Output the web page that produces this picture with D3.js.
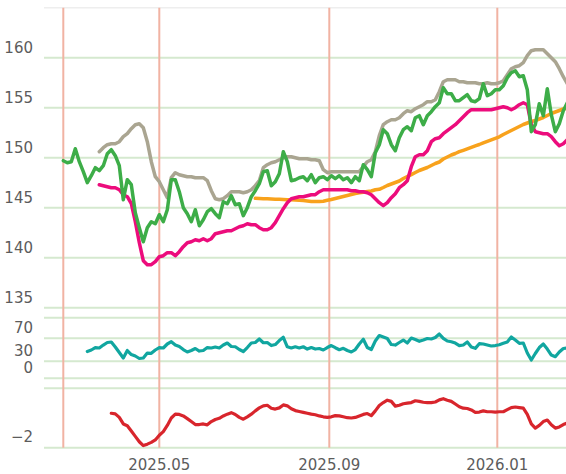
<!DOCTYPE html>
<html>
<head>
<meta charset="utf-8">
<script src="https://cdn.jsdelivr.net/npm/d3@7"></script>
<style>
body { margin: 0; background: #fff; }
svg { display: block; font-family: "DejaVu Sans", sans-serif; }
</style>
</head>
<body>
<svg id="drawing_region"></svg>
<script>
// x is a sample index (one sample every 2 trading days)
const tickIndex = [0, 24, 66.5, 108.5];
const tickLabels = ["", "2025.05", "2025.09", "2026.01"];

const priceTicks = [135, 140, 145, 150, 155, 160];
const rsiTicks = [0, 30, 70];
const oscTicks = [-2];

const price = [
  149.7,149.5,149.6,150.9,149.6,148.6,147.5,148.2,149.0,148.7,
  149.2,150.4,150.8,150.2,149.2,145.8,147.8,147.3,144.5,143.0,
  141.6,143.0,143.6,143.4,144.3,143.6,144.8,147.8,147.8,146.6,
  145.0,144.4,143.6,144.8,143.2,143.8,144.6,144.9,144.4,144.0,
  145.6,145.4,146.2,145.3,145.4,144.2,145.0,146.1,146.7,147.4,
  148.6,148.7,147.2,147.6,148.4,150.6,149.6,147.7,147.8,148.0,
  148.1,147.7,148.3,147.5,148.0,148.1,147.8,148.2,147.9,148.2,
  147.8,148.0,147.5,148.1,147.7,149.3,148.8,148.1,150.5,151.3,
  152.8,152.4,151.3,150.7,152.0,152.8,153.1,152.7,154.0,154.2,
  153.3,154.2,154.6,155.1,155.5,157.0,156.4,156.4,155.7,155.7,
  156.0,156.3,155.7,155.6,155.9,157.4,156.2,156.4,156.8,156.8,
  157.2,158.0,158.5,158.7,158.1,158.2,156.8,152.6,153.3,155.4,
  154.2,156.9,154.3,152.6,153.4,154.7,155.5
];

const upperStart = 9;
const upper = [
  150.6,151.0,151.3,151.4,151.4,151.6,152.1,152.4,152.9,153.3,
  153.4,153.0,151.6,149.6,148.1,147.6,146.8,146.0,148.0,148.5,
  148.3,148.2,148.1,148.1,148.0,148.0,148.0,147.7,146.7,145.9,
  145.8,145.9,146.2,146.6,146.6,146.6,146.5,146.6,146.8,147.2,
  147.7,149.0,149.3,149.5,149.6,149.8,150.0,150.1,150.1,150.0,
  149.9,149.9,149.9,149.8,149.8,149.7,148.8,148.5,148.6,148.6,
  148.6,148.6,148.6,148.6,148.6,148.6,149.1,149.6,149.8,150.6,
  152.2,153.3,153.6,153.8,153.8,154.0,154.4,154.7,154.6,154.9,
  155.1,155.3,155.6,155.6,155.8,156.6,157.6,157.8,157.8,157.8,
  157.6,157.6,157.5,157.5,157.5,157.4,157.4,157.5,157.4,157.4,
  157.5,157.7,158.3,158.9,159.1,159.2,159.5,160.2,160.7,160.8,
  160.8,160.8,160.4,160.0,159.6,158.9,158.1,157.4
];

const lowerStart = 9;
const lower = [
  147.3,147.2,147.1,147.0,147.0,146.8,146.3,146.1,145.4,143.6,
  141.5,139.7,139.3,139.3,139.6,140.1,140.2,140.5,140.5,140.2,
  140.6,141.1,141.5,141.6,141.8,141.7,141.9,141.7,141.9,142.4,
  142.5,142.6,142.7,142.7,142.9,143.1,143.2,143.4,143.3,143.3,
  143.0,142.8,142.8,143.0,143.5,144.2,144.9,145.5,145.9,146.0,
  146.1,146.1,146.2,146.3,146.3,146.6,146.8,146.8,146.8,146.8,
  146.8,146.8,146.8,146.7,146.7,146.6,146.6,146.5,146.3,145.9,
  145.5,145.2,145.5,146.0,146.4,147.0,147.3,147.7,149.1,150.1,
  150.3,150.3,150.7,151.6,151.9,152.0,152.4,152.7,153.0,153.3,
  153.7,154.1,154.5,154.8,154.8,154.8,154.8,154.8,154.8,154.9,
  155.0,155.1,155.0,154.8,155.0,155.3,155.5,155.3,153.3,152.6,
  152.5,152.4,152.4,152.1,151.6,151.2,151.4,151.8
];

const longMaStart = 48;
const longMa = [
  145.94,145.92,145.90,145.89,145.87,145.85,145.84,145.82,145.80,145.79,
  145.77,145.74,145.71,145.67,145.63,145.61,145.62,145.65,145.74,145.82,
  145.92,146.02,146.12,146.22,146.32,146.42,146.49,146.55,146.62,146.67,
  146.79,146.84,147.02,147.22,147.37,147.52,147.67,147.92,148.12,148.31,
  148.52,148.72,148.87,149.02,149.22,149.42,149.57,149.87,150.07,150.27,
  150.42,150.60,150.74,150.89,151.04,151.19,151.32,151.49,151.64,151.79,
  151.94,152.09,152.32,152.52,152.72,152.92,153.12,153.32,153.47,153.62,
  153.72,153.87,154.02,154.22,154.42,154.57,154.72,154.87,154.97
];

const rsiStart = 6;
const rsi = [
  46.8,49.5,53.8,53.0,58.2,62.6,63.5,54.7,45.1,35.5,
  48.6,41.6,39.0,34.6,35.5,44.2,43.7,49.5,53.8,53.0,
  60.0,64.0,58.2,55.6,50.3,46.0,48.6,52.1,47.7,48.6,
  53.8,53.0,54.7,53.0,58.2,61.7,55.6,55.2,50.3,46.8,
  53.8,61.7,62.6,68.7,62.2,62.6,57.3,59.1,66.1,71.7,
  55.1,53.0,55.2,53.0,55.2,51.2,53.8,51.2,52.1,49.5,
  53.8,57.3,53.5,50.0,52.4,48.6,46.0,50.3,60.0,68.2,
  53.8,50.3,65.2,74.8,72.2,69.6,59.1,58.2,62.6,66.9,
  61.7,70.4,67.8,64.7,66.9,69.6,68.7,71.3,77.4,69.9,
  65.2,64.0,61.7,57.3,58.2,63.5,54.7,52.4,60.5,60.0,
  58.2,56.5,57.3,58.7,61.2,63.5,72.2,66.9,61.2,61.7,
  44.2,32.0,43.4,53.8,60.0,51.2,40.7,37.8,46.0,52.1,
  53.0
];

const oscStart = 12;
const osc = [
  -0.84,-0.86,-0.98,-1.20,-1.26,-1.44,-1.62,-1.80,-1.93,-1.88,
  -1.82,-1.74,-1.58,-1.46,-1.25,-1.00,-0.87,-0.88,-0.93,-1.02,
  -1.12,-1.22,-1.22,-1.20,-1.23,-1.12,-1.05,-1.01,-0.93,-0.87,
  -0.82,-0.88,-0.98,-1.04,-0.96,-0.87,-0.76,-0.66,-0.59,-0.57,
  -0.67,-0.70,-0.66,-0.56,-0.59,-0.69,-0.75,-0.78,-0.81,-0.84,
  -0.87,-0.89,-0.93,-0.96,-0.98,-0.96,-0.92,-0.93,-0.96,-0.99,
  -1.00,-0.98,-0.93,-0.88,-0.85,-0.92,-0.76,-0.58,-0.48,-0.40,
  -0.44,-0.60,-0.57,-0.52,-0.50,-0.48,-0.42,-0.44,-0.47,-0.48,
  -0.48,-0.46,-0.39,-0.35,-0.40,-0.44,-0.53,-0.62,-0.67,-0.68,
  -0.73,-0.81,-0.80,-0.76,-0.79,-0.79,-0.80,-0.79,-0.79,-0.72,
  -0.65,-0.63,-0.65,-0.67,-0.88,-1.20,-1.34,-1.25,-1.12,-1.07,
  -1.23,-1.34,-1.30,-1.22,-1.17
];

const width = 566, height = 474;
const left = 44;
const gridColor = "#d5e9cf";
const vColor = "#f1b3a3";
const textColor = "#5c5c5c";

const svg = d3.select("#drawing_region")
  .attr("width", width)
  .attr("height", height);

const xscale = d3.scaleLinear().domain([0, 125]).range([63.3, 563.3]);
const yPrice = d3.scaleLinear().domain([135, 165]).range([307.7, 7.7]);
const yRsi = d3.scaleLinear().domain([0, 106]).range([378.3, 317.7]);
const yOsc = d3.scaleLinear().domain([-2, 0]).range([447.7, 388.3]);

const grid = svg.append("g");

// top border of price panel
grid.append("line")
  .attr("x1", left).attr("x2", width)
  .attr("y1", yPrice(165)).attr("y2", yPrice(165))
  .attr("stroke", "#eeeeee").attr("stroke-width", 1.5);

// horizontal grid lines
const hLines = []
  .concat(priceTicks.map(v => yPrice(v)))
  .concat([yRsi(106)], rsiTicks.map(v => yRsi(v)))
  .concat([yOsc(0)], oscTicks.map(v => yOsc(v)));

grid.selectAll(".hline")
  .data(hLines)
  .join("line")
  .attr("x1", left).attr("x2", width)
  .attr("y1", d => d).attr("y2", d => d)
  .attr("stroke", gridColor).attr("stroke-width", 2);

// vertical grid lines
grid.selectAll(".vline")
  .data(tickIndex)
  .join("line")
  .attr("x1", d => xscale(d)).attr("x2", d => xscale(d))
  .attr("y1", yPrice(165)).attr("y2", yOsc(-2))
  .attr("stroke", vColor).attr("stroke-width", 2);

// y labels
const labels = svg.append("g")
  .attr("fill", textColor)
  .attr("font-size", 15)
  .attr("text-anchor", "end");

labels.selectAll(".pl")
  .data(priceTicks)
  .join("text")
  .attr("x", 33).attr("y", d => yPrice(d) - 4.5)
  .text(d => d);

labels.selectAll(".rl")
  .data(rsiTicks)
  .join("text")
  .attr("x", 33).attr("y", d => yRsi(d) - 5.5)
  .text(d => d);

labels.selectAll(".ol")
  .data(oscTicks)
  .join("text")
  .attr("x", 33).attr("y", d => yOsc(d) - 6)
  .text(d => "\u2212" + Math.abs(d));

// x labels
svg.append("g")
  .attr("fill", textColor)
  .attr("font-size", 15)
  .attr("text-anchor", "middle")
  .selectAll("text")
  .data(tickIndex.map((d, i) => ({ i: d, label: tickLabels[i] })))
  .join("text")
  .attr("x", d => xscale(d.i))
  .attr("y", 470)
  .text(d => d.label);

// series
function drawSeries(values, start, yscale, color, w) {
  const line = d3.line()
    .x((d, i) => xscale(start + i))
    .y(d => yscale(d));
  svg.append("path")
    .attr("d", line(values))
    .attr("fill", "none")
    .attr("stroke", color)
    .attr("stroke-width", w)
    .attr("stroke-linejoin", "round")
    .attr("stroke-linecap", "round");
}

drawSeries(upper, upperStart, yPrice, "#aaa591", 3.5);
drawSeries(longMa, longMaStart, yPrice, "#f8a21c", 3.5);
drawSeries(lower, lowerStart, yPrice, "#ec0c7c", 3.5);
drawSeries(price, 0, yPrice, "#3dad48", 3.5);
drawSeries(rsi, rsiStart, yRsi, "#11a6a0", 3.2);
drawSeries(osc, oscStart, yOsc, "#d8252c", 3.2);
</script>
</body>
</html>
